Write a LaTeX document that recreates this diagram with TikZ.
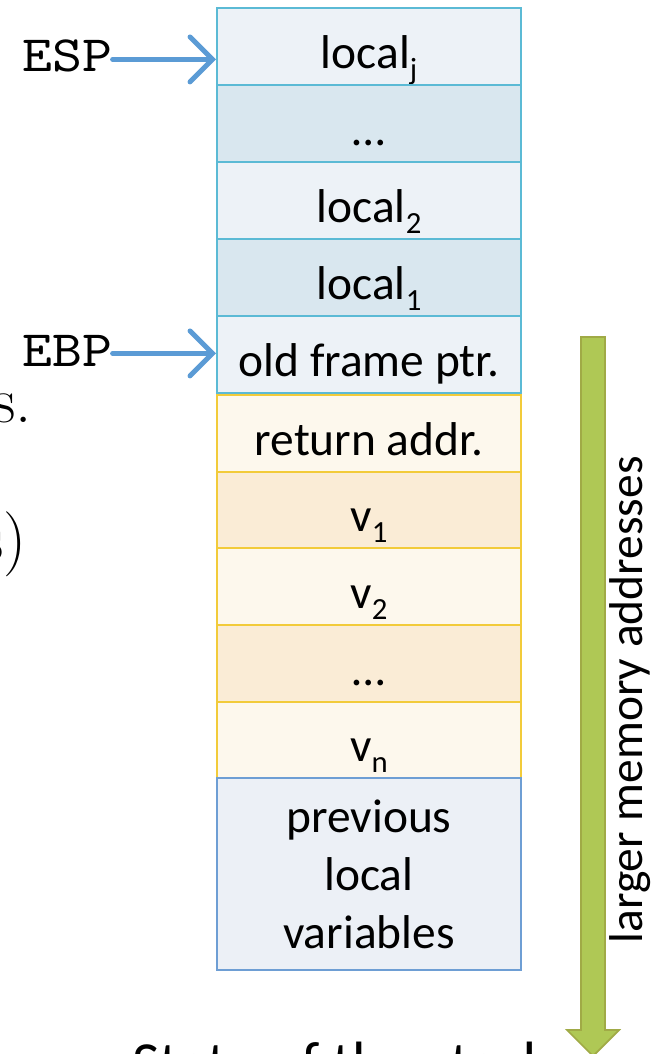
\documentclass[tikz,border=0pt]{standalone}
\usepackage{fontspec}
\newfontfamily\calibri{Carlito}
\newfontfamily\regfont[FakeStretch=1.12]{lmmono10-regular.otf}
\usetikzlibrary{arrows.meta}

\definecolor{frameedge}{HTML}{5BBAD5}
\definecolor{framelight}{HTML}{EDF2F7}
\definecolor{framedark}{HTML}{D9E7EF}
\definecolor{argedge}{HTML}{F2CB3A}
\definecolor{arglight}{HTML}{FDF8ED}
\definecolor{argdark}{HTML}{FAECD6}
\definecolor{prevedge}{HTML}{6E9ED4}
\definecolor{prevfill}{HTML}{ECF0F6}
\definecolor{ptrblue}{HTML}{5B9BD5}
\definecolor{growfill}{HTML}{AFC855}
\definecolor{growedge}{HTML}{A0AA46}

% index set low and small, as in the slide font
\newcommand\idx[1]{\raisebox{-6pt}{\fontsize{17.5}{17.5}\selectfont #1}}

\tikzset{
  cell/.style={draw, line width=1.2pt, minimum width=6.08cm, minimum height=1.54cm,
    inner sep=0pt, font=\calibri\fontsize{27}{33}\selectfont},
  slot/.style={cell, text height=25pt, text depth=0pt},
  frame/.style={slot, draw=frameedge, fill=framelight},
  framealt/.style={frame, fill=framedark},
  arg/.style={slot, draw=argedge, fill=arglight, minimum height=1.532cm},
  argalt/.style={arg, fill=argdark},
  reg/.style={inner sep=0pt, anchor=base west, font=\regfont\fontsize{29}{32}\selectfont},
  ptr/.style={ptrblue, line width=2.8pt, line cap=round,
    -{Straight Barb[length=4.5mm, width=9mm, line cap=round]}},
}

\begin{document}
\begin{tikzpicture}[x=0.02cm, y=-0.02cm]
  \useasboundingbox (0,0) rectangle (654,1054);

  % current frame
  \node[frame]    (lj)  at (369,46.5)  {local\idx{j}};
  \node[framealt] (ld)  at (369,123.5) {…};
  \node[frame]    (l2)  at (369,200.5) {local\idx{2}};
  \node[framealt] (l1)  at (369,277.5) {local\idx{1}};
  \node[frame]    (ofp) at (369,354.5) {old frame ptr.};

  % return address and arguments
  \node[arg]    (ret) at (369,433.3) {return addr.};
  \node[argalt] (v1)  at (369,510)   {v\idx{1}};
  \node[arg]    (v2)  at (369,586.6) {v\idx{2}};
  \node[argalt] (vd)  at (369,663.3) {…};
  \node[arg]    (vn)  at (369,740)   {v\idx{n}};

  % caller's frame
  \node[cell, draw=prevedge, fill=prevfill, minimum height=3.84cm, align=center]
    (prev) at (369,874) {previous\\local\\variables};

  % registers
  \node[reg] (esp) at (22,72)  {ESP};
  \node[reg] (ebp) at (22,366) {EBP};
  \draw[ptr] ([yshift=-1.7pt]esp.east) -- ([yshift=-1.7pt]esp.east -| lj.west);
  \draw[ptr] ([yshift=-1.7pt]ebp.east) -- ([yshift=-1.7pt]ebp.east -| ofp.west);

  % growth direction
  \draw[growedge, fill=growfill, line width=1pt]
    (581,337) -- (605,337) -- (605,1030) -- (619,1030) -- (593,1056)
    -- (567,1030) -- (581,1030) -- cycle;
  \node[rotate=90, font=\calibri\fontsize{27}{30}\selectfont] (grow) at (630,700)
    {larger memory addresses};

  % text running past the edges
  \node[anchor=base east, inner sep=0pt, font=\fontsize{37}{40}\selectfont] (fraga) at (32,422) {s.};
  \node[anchor=base east, inner sep=0pt, font=\fontsize{37}{40}\selectfont] (fragb) at (27,560) {s)};
  \node[anchor=base west, inner sep=0pt, font=\calibri\fontsize{34}{38}\selectfont] (caption) at (132,1083)
    {State of the stack};
\end{tikzpicture}
\end{document}
